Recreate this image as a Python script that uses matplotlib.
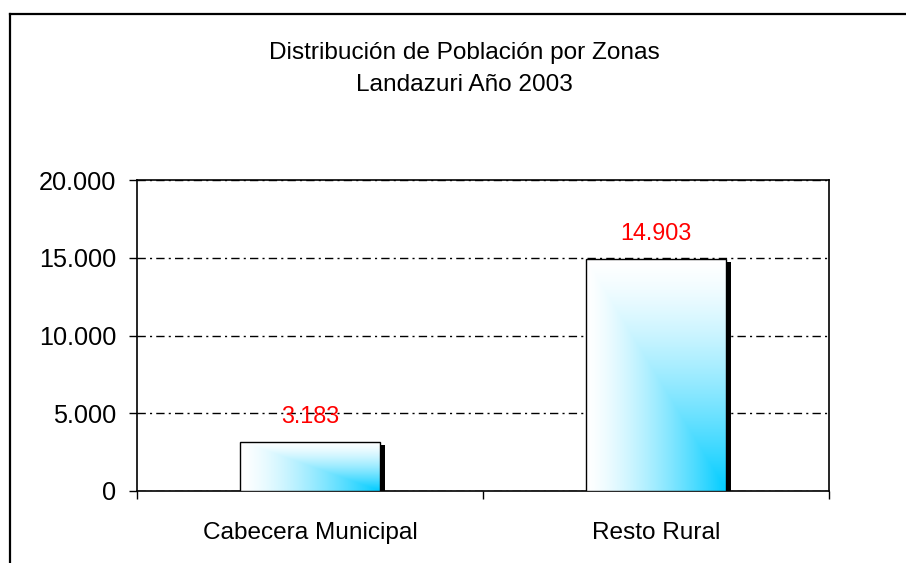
import numpy as np
import matplotlib
matplotlib.use("Agg")
import matplotlib.pyplot as plt
import matplotlib.transforms as mtransforms
from matplotlib.lines import Line2D
from matplotlib.patches import Rectangle
from matplotlib.ticker import FuncFormatter, FixedLocator

plt.rcParams['font.family'] = ['Liberation Sans', 'DejaVu Sans']

# data
categories = ["Cabecera Municipal", "Resto Rural"]
values = [3183, 14903]
title_lines = ["Distribución de Población por Zonas", "Landazuri Año 2003"]
yticks = [0, 5000, 10000, 15000, 20000]

W, H = 906, 563
fig = plt.figure(figsize=(W / 100, H / 100), dpi=100)
ax = fig.add_axes([137 / W, 1 - 491 / H, (829 - 137) / W, (491 - 180) / H])

fs = 17.6
bar_w = 0.405
cyan = np.array([0.0, 0.80, 1.0])

# gradient image: white top-left -> cyan bottom-right
n = 200
u = np.linspace(0, 1, n)[None, :]
v = np.linspace(0, 1, n)[:, None]
t = np.minimum(u, v) ** 1.4
grad = (1 - t[..., None]) * np.array([1.0, 1.0, 1.0]) + t[..., None] * cyan

shadow = ax.transData + mtransforms.ScaledTranslation(5 / 100, -3 / 100, fig.dpi_scale_trans)
for i, val in enumerate(values):
    x0 = i - bar_w / 2
    ax.add_patch(Rectangle((x0, 0), bar_w, val, facecolor="black", edgecolor="none",
                           transform=shadow, zorder=2))
    ax.imshow(grad, extent=[x0, x0 + bar_w, 0, val], aspect="auto", zorder=3,
              interpolation="bilinear")
    ax.add_patch(Rectangle((x0, 0), bar_w, val, facecolor="none", edgecolor="black",
                           lw=1.0, zorder=4))
    ax.annotate(f"{val:,}".replace(",", "."), (i, val), xytext=(0, 10),
                textcoords="offset points", ha="center", va="bottom",
                color="red", fontsize=16.8)

ax.set_xlim(-0.5, 1.5)
ax.set_ylim(0, 20000)
ax.set_yticks(yticks)
ax.yaxis.set_major_formatter(FuncFormatter(lambda y, p: f"{int(y):,}".replace(",", ".")))
ax.tick_params(axis="y", labelsize=18.2, length=6, width=1, pad=9, direction="out")

ax.xaxis.set_major_locator(FixedLocator([-0.5, 0.5, 1.5]))
ax.set_xticklabels([])
ax.xaxis.set_minor_locator(FixedLocator([0, 1]))
ax.set_xticklabels(categories, minor=True)
ax.tick_params(axis="x", which="major", length=6, width=1, direction="out")
ax.tick_params(axis="x", which="minor", length=0, pad=22, labelsize=fs)

ax.grid(axis="y", color="black", linestyle=(0, (6, 3, 1.5, 3)), lw=1.0, zorder=1)
ax.set_axisbelow(True)
for s in ax.spines.values():
    s.set_color("black")
    s.set_linewidth(1.2)

# titles
fig.text(464 / W, 1 - 53 / H, title_lines[0], ha="center", va="center", fontsize=fs)
fig.text(464 / W, 1 - 85 / H, title_lines[1], ha="center", va="center", fontsize=fs)

# outer chart frame (cut at right and bottom)
fig.add_artist(Line2D([10 / W, 1.0], [1 - 14 / H, 1 - 14 / H], color="black", lw=1.6))
fig.add_artist(Line2D([10 / W, 10 / W], [1 - 14 / H, 0], color="black", lw=1.6))

fig.savefig("out.png", dpi=100)
